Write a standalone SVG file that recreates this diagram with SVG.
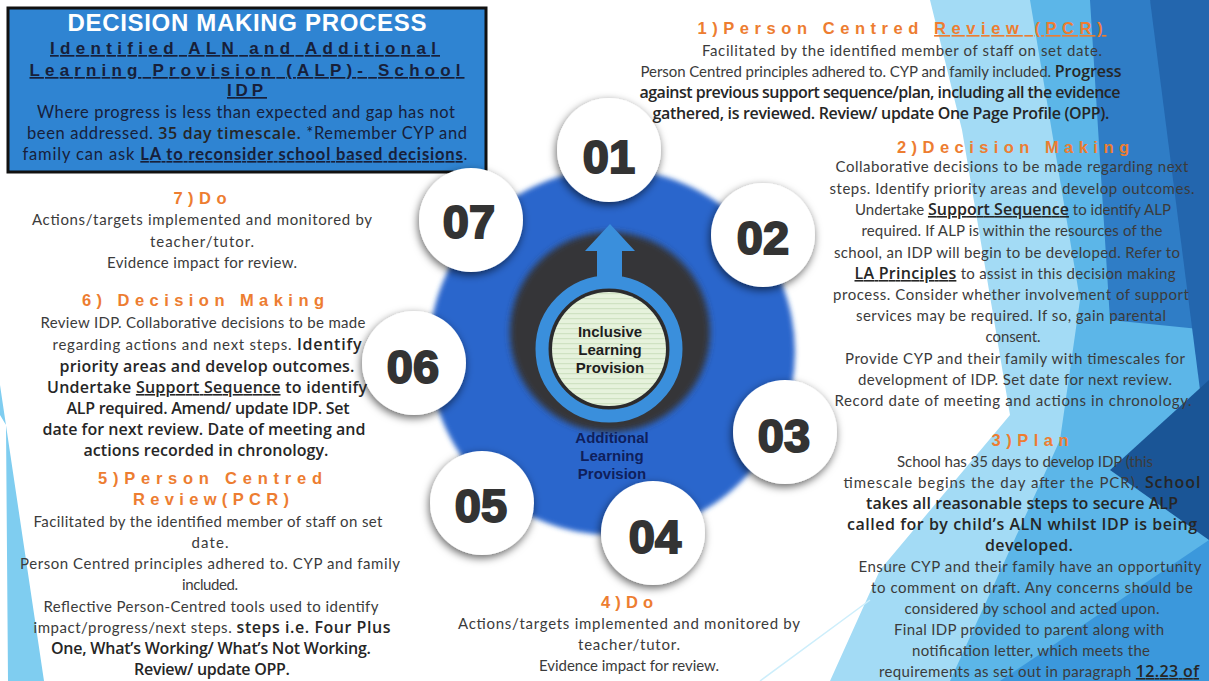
<svg xmlns="http://www.w3.org/2000/svg" width="1209" height="681" viewBox="0 0 1209 681">
<defs>
<style>
.body{font-family:Lato,"Liberation Sans",sans-serif;font-size:15px;fill:#3b3b3b;text-anchor:middle}
.sb{font-family:"Open Sans","DejaVu Sans",sans-serif;font-weight:600;font-size:16px;fill:#262626}
.ttl{font-family:"Liberation Sans",Arial,sans-serif;font-weight:bold;font-size:16.5px;fill:#ED7D31;text-anchor:middle;letter-spacing:4px}
.num{font-family:"Liberation Sans",Arial,sans-serif;font-weight:bold;font-size:47px;fill:#333;stroke:#333;stroke-width:2;text-anchor:middle}
.hd{font-family:"Liberation Sans",Arial,sans-serif;font-weight:bold;font-size:17px;fill:#17203a;text-anchor:middle;letter-spacing:4px;text-decoration:underline}
.bx{font-family:Lato,"Liberation Sans",sans-serif;font-size:16.5px;fill:#17203a;text-anchor:middle}
.ctr{font-family:"Liberation Sans",Arial,sans-serif;font-weight:bold;font-size:15px;text-anchor:middle}
.ul{text-decoration:underline}
.wc{fill:#fff;filter:url(#sh)}
</style>
<filter id="sh" x="-30%" y="-30%" width="160%" height="160%"><feDropShadow dx="-1" dy="3" stdDeviation="4" flood-color="#000" flood-opacity="0.6"/></filter>
<filter id="soft" x="-10%" y="-10%" width="120%" height="120%"><feGaussianBlur stdDeviation="2.5"/></filter>
<filter id="soft2" x="-20%" y="-20%" width="140%" height="140%"><feGaussianBlur stdDeviation="3"/></filter>
<pattern id="stripes" width="6" height="5" patternUnits="userSpaceOnUse"><rect width="6" height="5" fill="#e6f2dc"/><rect y="3" width="6" height="1.2" fill="#cfe2c2"/></pattern>
</defs>
<rect width="1209" height="681" fill="#ffffff"/>
<g id="background">
<polygon points="930,0 1209,0 1209,681 830,681 880,570 1010,415 962,130" fill="#a3dbf5"/>
<polygon points="1030,0 1209,0 1209,681 950,681 1060,440 1080,300" fill="#5cb6e8"/>
<polygon points="1090,0 1150,0 1209,120 1209,330 1110,320" fill="#2f7dc6"/>
<polygon points="1150,0 1209,0 1209,460" fill="#2366ae"/>
<polygon points="1209,380 1209,540 1110,470" fill="#1a5596"/>
<polygon points="1000,681 1209,540 1209,681" fill="#3b98dc"/>
<line x1="760" y1="681" x2="870" y2="600" stroke="#cdeefb" stroke-width="1.5"/>
<polygon points="0,385 44,681 8,681 6,425 0,415" fill="#7fcdf0"/>
</g>
<g id="header-box">
<rect x="8" y="8" width="478" height="164" fill="#2f84d2" stroke="#111" stroke-width="3"/>
<text x="247" y="31" font-family="Liberation Sans, Arial, sans-serif" font-weight="bold" font-size="24" fill="#fff" text-anchor="middle" textLength="359">DECISION MAKING PROCESS</text>
<text class="hd" x="245" y="54" textLength="390">Identified ALN and Additional</text>
<text class="hd" x="247" y="76" textLength="435">Learning Provision (ALP)- School</text>
<text class="hd" x="247" y="96" textLength="40">IDP</text>
<text class="bx" x="246" y="118" textLength="418">Where progress is less than expected and gap has not</text>
<text class="bx" x="247" y="139" textLength="440">been addressed. <tspan class="sb" fill="#17203a" font-size="16">35 day timescale.</tspan> *Remember CYP and</text>
<text class="bx" x="245" y="160" textLength="445">family can ask <tspan class="ul" font-weight="bold">LA to reconsider school based decisions</tspan>.</text>
</g>
<g id="center">
<circle cx="612" cy="352" r="183" fill="#2b66cc" filter="url(#soft)"/>
<circle cx="610" cy="332" r="100" fill="#363638" filter="url(#soft2)"/>
<circle cx="609" cy="349" r="67" fill="none" stroke="#3a8fdc" stroke-width="13"/>
<circle cx="609" cy="349" r="60" fill="#2b2b2d"/>
<circle cx="609" cy="349" r="57" fill="url(#stripes)"/>
<text class="ctr" fill="#1e1e1e"><tspan x="610" y="337">Inclusive</tspan><tspan x="610" y="355">Learning</tspan><tspan x="610" y="373">Provision</tspan></text>
<text class="ctr" fill="#0f1f5c"><tspan x="612" y="443">Additional</tspan><tspan x="612" y="461">Learning</tspan><tspan x="612" y="479">Provision</tspan></text>
</g>
<g id="connectors">
<path d="M610,224 L635,251 L622,251 L622,283 L597,283 L597,251 L585,251 Z" fill="#3a8fdc"/>
</g>
<g id="node-01"><circle class="wc" cx="609" cy="150" r="52"/><text class="num" x="609" y="173">01</text></g>
<g id="node-02"><circle class="wc" cx="763" cy="235" r="52"/><text class="num" x="763" y="254">02</text></g>
<g id="node-03"><circle class="wc" cx="785" cy="432" r="52"/><text class="num" x="784" y="452">03</text></g>
<g id="node-04"><circle class="wc" cx="653" cy="533" r="52"/><text class="num" x="655" y="553">04</text></g>
<g id="node-05"><circle class="wc" cx="482" cy="503" r="52"/><text class="num" x="481" y="522">05</text></g>
<g id="node-06"><circle class="wc" cx="414" cy="363" r="52"/><text class="num" x="413" y="383">06</text></g>
<g id="node-07"><circle class="wc" cx="471" cy="220" r="52"/><text class="num" x="469" y="238">07</text></g>
<g id="step1-text">
<text class="ttl" x="902" y="34" textLength="409">1)Person Centred <tspan class="ul">Review (PCR)</tspan></text>
<text class="body" x="902" y="56" textLength="400">Facilitated by the identified member of staff on set date.</text>
<text class="body" x="881" y="77" textLength="481">Person Centred principles adhered to.  CYP and family included.  <tspan class="sb">Progress</tspan></text>
<text class="body" x="880" y="98" textLength="481"><tspan class="sb">against previous support sequence/plan, including all the evidence</tspan></text>
<text class="body" x="881" y="119" textLength="457"><tspan class="sb">gathered, is reviewed. Review/ update One Page Profile (OPP).</tspan></text>
</g>
<g id="step2-text">
<text class="ttl" x="1015" y="153" textLength="236">2)Decision Making</text>
<text class="body" x="1012" y="172" textLength="353">Collaborative decisions to be made regarding next</text>
<text class="body" x="1012" y="194" textLength="365">steps. Identify priority areas and develop outcomes.</text>
<text class="body" x="1013" y="215" textLength="316">Undertake <tspan class="sb ul">Support Sequence</tspan> to identify ALP</text>
<text class="body" x="1012" y="236" textLength="301">required. If ALP is within the resources of the</text>
<text class="body" x="1007" y="258" textLength="346">school, an IDP will begin to be developed. Refer to</text>
<text class="body" x="1015" y="279" textLength="321"><tspan class="sb ul">LA Principles</tspan> to assist in this decision making</text>
<text class="body" x="1011" y="300" textLength="356">process. Consider whether involvement of support</text>
<text class="body" x="1011" y="321" textLength="310">services may be required. If so,  gain parental</text>
<text class="body" x="1013" y="342" textLength="55">consent.</text>
<text class="body" x="1015" y="364" textLength="340">Provide CYP and their family with timescales for</text>
<text class="body" x="1015" y="385" textLength="314">development of IDP. Set date for next review.</text>
<text class="body" x="1013" y="406" textLength="357">Record date of meeting and actions in chronology.</text>
</g>
<g id="step3-text">
<text class="ttl" x="1032" y="446" textLength="81">3)Plan</text>
<text class="body" x="1025" y="467" textLength="256">School has 35 days to develop IDP (this</text>
<text class="body" x="1022" y="488" textLength="357">timescale begins the day after the PCR).  <tspan class="sb">School</tspan></text>
<text class="body" x="1022" y="509" textLength="312"><tspan class="sb">takes all reasonable steps to secure ALP</tspan></text>
<text class="body" x="1022" y="530" textLength="350"><tspan class="sb">called for by child’s ALN whilst IDP is being</tspan></text>
<text class="body" x="1029" y="551" textLength="88"><tspan class="sb">developed.</tspan></text>
<text class="body" x="1030" y="572" textLength="343">Ensure CYP and their family have an opportunity</text>
<text class="body" x="1032" y="593" textLength="322">to comment on draft. Any concerns should be</text>
<text class="body" x="1032" y="614" textLength="255">considered by school and acted upon.</text>
<text class="body" x="1029" y="635" textLength="270">Final IDP provided to parent along with</text>
<text class="body" x="1031" y="656" textLength="238">notification letter, which meets the</text>
<text class="body" x="1039" y="677" textLength="320">requirements as set out in paragraph <tspan class="sb ul">12.23 of</tspan></text>
</g>
<g id="step4-text">
<text class="ttl" x="629" y="608" textLength="56">4)Do</text>
<text class="body" x="629" y="629" textLength="342">Actions/targets implemented and monitored by</text>
<text class="body" x="629" y="650" textLength="102">teacher/tutor.</text>
<text class="body" x="629" y="671" textLength="180">Evidence impact for review.</text>
</g>
<g id="step5-text">
<text class="ttl" x="212" y="484" textLength="228">5)Person Centred</text>
<text class="ttl" x="213" y="505" textLength="160">Review(PCR)</text>
<text class="body" x="208" y="527" textLength="349">Facilitated by the identified member of staff on set</text>
<text class="body" x="210" y="548" textLength="37">date.</text>
<text class="body" x="210" y="569" textLength="380">Person Centred principles adhered to.  CYP and family</text>
<text class="body" x="210" y="590" textLength="56">included.</text>
<text class="body" x="211" y="612" textLength="335">Reflective Person-Centred tools used to identify</text>
<text class="body" x="212" y="633" textLength="357">impact/progress/next steps. <tspan class="sb">steps i.e. Four Plus</tspan></text>
<text class="body" x="211" y="654" textLength="320"><tspan class="sb">One, What’s Working/ What’s Not Working.</tspan></text>
<text class="body" x="212" y="675" textLength="156"><tspan class="sb">Review/ update OPP.</tspan></text>
</g>
<g id="step6-text">
<text class="ttl" x="205" y="306" textLength="246">6) Decision Making</text>
<text class="body" x="203" y="328" textLength="325">Review IDP. Collaborative decisions to be made</text>
<text class="body" x="207" y="350" textLength="309">regarding actions and next steps.   <tspan class="sb">Identify</tspan></text>
<text class="body" x="207" y="372" textLength="295"><tspan class="sb">priority areas and develop outcomes.</tspan></text>
<text class="body" x="207" y="393" textLength="320"><tspan class="sb">Undertake <tspan class="ul">Support Sequence</tspan> to identify</tspan></text>
<text class="body" x="208" y="414" textLength="283"><tspan class="sb">ALP required. Amend/ update IDP. Set</tspan></text>
<text class="body" x="204" y="435" textLength="323"><tspan class="sb">date for next review. Date of meeting and</tspan></text>
<text class="body" x="206" y="456" textLength="245"><tspan class="sb">actions recorded in chronology.</tspan></text>
</g>
<g id="step7-text">
<text class="ttl" x="202" y="204" textLength="57">7)Do</text>
<text class="body" x="202" y="225" textLength="340">Actions/targets implemented and monitored by</text>
<text class="body" x="202" y="247" textLength="104">teacher/tutor.</text>
<text class="body" x="202" y="268" textLength="190">Evidence impact for review.</text>
</g>
</svg>
